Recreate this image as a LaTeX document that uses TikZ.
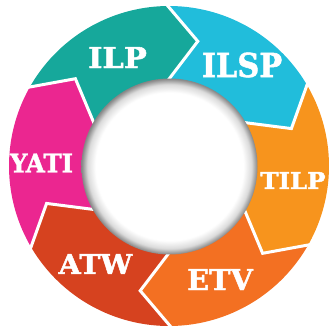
\documentclass[tikz,border=0pt]{standalone}
\usepackage{fontspec}
\newfontfamily\lblfont{DejaVu Serif Bold}[FakeBold=1.6]
\definecolor{cILP}{HTML}{16A89B}
\definecolor{cILSP}{HTML}{21BDDB}
\definecolor{cTILP}{HTML}{F7941D}
\definecolor{cETV}{HTML}{F37022}
\definecolor{cATW}{HTML}{D6421F}
\definecolor{cYATI}{HTML}{EB2690}
\pgfdeclareradialshading{holeshade}{\pgfpoint{0bp}{0bp}}{color(0bp)=(white); color(21bp)=(white); color(23.3bp)=(black!14); color(25bp)=(black!48); color(50bp)=(black!48)}
\newcommand{\seg}[2]{%
  \fill[#2] (#1:160) arc[start angle=#1, end angle=#1-60, radius=160]
    -- ({#1-74}:128) -- ({#1-60}:86) arc[start angle=#1-60, end angle=#1, radius=86]
    -- ({#1-14}:128) -- cycle;}
\newcommand{\gapline}[1]{%
  \draw[white, line width=3pt, line join=miter] (#1:162) -- ({#1-14}:128) -- (#1:85);}
\newcommand{\fs}[1]{\fontsize{#1}{#1}\selectfont}
\begin{document}
\begin{tikzpicture}[x=1pt,y=1pt,
  lbl/.style={text=white, inner sep=0pt, font=\lblfont}]
\useasboundingbox (-169,-159) rectangle (160,166);
\seg{151}{cILP}
\seg{91}{cILSP}
\seg{31}{cTILP}
\seg{-29}{cETV}
\seg{-89}{cATW}
\seg{-149}{cYATI}
\foreach \b in {151,91,31,-29,-89,-149} {\gapline{\b}}
\shade[shading=holeshade] (0.5,-0.5) circle (88);
\node[lbl, xscale=1.06] (ilp) at (-51.5,108.5) {\fs{28.8}ILP};
\node[lbl, xscale=0.92] (ilsp) at (73,101) {\fs{33}ILSP};
\node[lbl, xscale=1.05] (tilp) at (124,-14.5) {\fs{23.3}TILP};
\node[lbl] (etv) at (51,-113.5) {\fs{28.8}ETV};
\node[lbl, xscale=1.04] (atw) at (-73.5,-98) {\fs{27.4}ATW};
\node[lbl, xscale=0.94] (yati) at (-127.5,3) {\fs{26}YATI};
\end{tikzpicture}
\end{document}
